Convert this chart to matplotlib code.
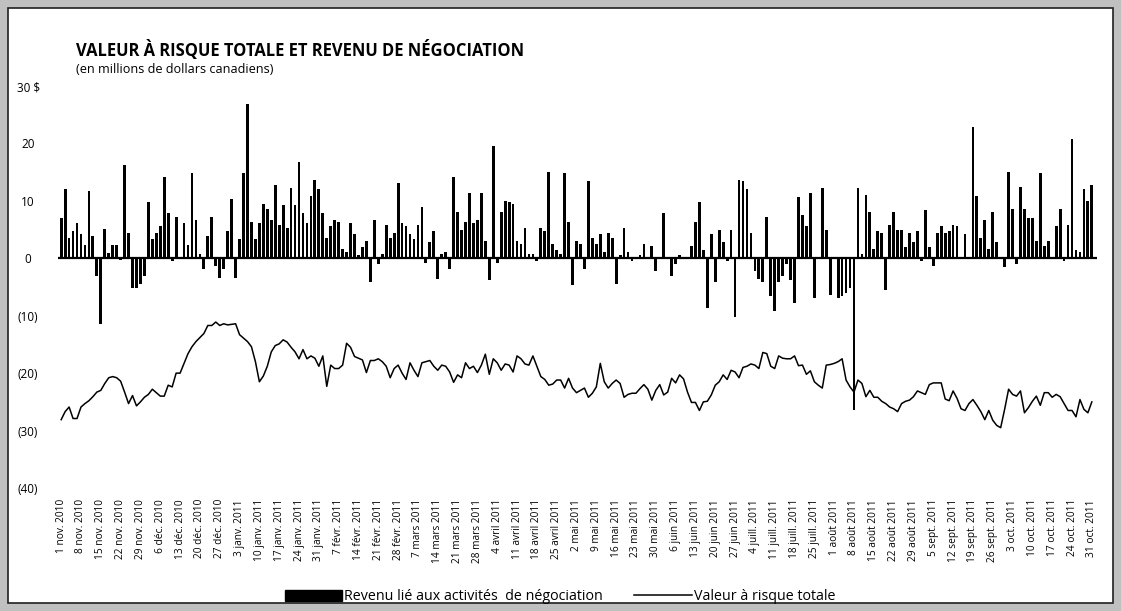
import matplotlib
matplotlib.use("Agg")
import matplotlib.pyplot as plt
from matplotlib.patches import Rectangle, Patch
from matplotlib.lines import Line2D
import numpy as np

# Revenu lié aux activités de négociation (M$), un point par jour ouvrable
revenu = [
    7.0, 12.0, 3.6, 4.8, 6.1, 4.2, 2.4, 11.8, 3.9, -3.0,
    -11.4, 5.1, 0.9, 2.3, 2.3, -0.3, 16.2, 4.4, -5.2, -5.2,
    -4.4, -3.0, 9.8, 3.3, 4.4, 5.6, 14.2, 7.8, -0.4, 7.2,
    0.2, 6.1, 2.3, 14.8, 6.7, 0.8, -1.9, 3.9, 7.2, -1.3,
    -3.4, -1.9, 4.7, 10.3, -3.4, 3.3, 14.8, 26.8, 6.4, 3.3,
    6.1, 9.5, 8.6, 6.7, 12.8, 5.8, 9.2, 5.3, 12.2, 9.2,
    16.8, 7.8, 6.1, 10.9, 13.7, 12.0, 7.8, 3.6, 5.6, 6.7,
    6.4, 1.6, 1.1, 6.1, 4.2, 0.5, 1.9, 3.0, -4.2, 6.7,
    -1.0, 0.8, 5.8, 3.6, 4.4, 13.1, 6.1, 5.6, 4.2, 3.3,
    5.8, 8.9, -0.8, 2.8, 4.7, -3.6, 0.8, 1.1, -1.9, 14.2,
    8.1, 5.0, 6.4, 11.4, 6.1, 6.7, 11.4, 3.0, -3.8, 19.5,
    -0.8, 8.1, 10.0, 9.8, 9.5, 3.0, 2.5, 5.3, 0.8, 0.8,
    -0.5, 5.3, 4.7, 15.1, 2.5, 1.4, 0.8, 14.8, 6.4, -4.7,
    3.0, 2.5, -1.9, 13.4, 3.6, 2.5, 4.2, 1.1, 4.4, 3.6,
    -4.4, 0.5, 5.3, 1.1, -0.5, 0.1, 0.5, 2.5, 0.1, 2.2,
    -2.2, 0.1, 7.8, 0.0, -3.0, -1.0, 0.5, 0.2, 0.2, 2.2,
    6.4, 9.8, 1.4, -8.6, 4.2, -4.2, 5.0, 2.8, -0.5, 5.0,
    -10.3, 13.7, 13.4, 12.0, 4.4, -2.2, -3.6, -4.2, 7.2, -6.6,
    -9.2, -4.2, -3.0, -1.0, -3.8, -7.8, 10.6, 7.5, 5.6, 11.4,
    -6.9, 0.0, 12.2, 5.0, -6.4, 0.2, -6.9, -6.6, -6.1, -5.2,
    -26.5, 12.2, 0.8, 11.1, 8.1, 1.6, 4.7, 4.4, -5.5, 5.8,
    8.1, 5.0, 5.0, 1.9, 4.4, 2.8, 4.7, -0.5, 8.4, 1.9,
    -1.3, 4.4, 5.6, 4.4, 4.7, 5.8, 5.6, 0.0, 4.2, 0.2,
    22.9, 10.9, 3.6, 6.7, 1.6, 8.1, 2.8, 0.0, -1.6, 15.1,
    8.6, -1.0, 12.5, 8.6, 7.0, 7.0, 3.0, 14.8, 2.2, 3.0,
    0.0, 5.6, 8.6, -0.5, 5.8, 20.7, 1.4, 1.1, 12.0, 10.0,
    12.8,
]

# Valeur à risque totale (M$)
var_totale = [
    -28.1, -26.7, -25.9, -27.9, -27.9, -25.9, -25.3, -24.8, -24.1, -23.3,
    -23.0, -21.8, -20.8, -20.6, -20.8, -21.4, -23.3, -25.3, -23.9, -25.7,
    -25.0, -24.2, -23.7, -22.8, -23.4, -24.0, -24.0, -22.1, -22.4, -20.0,
    -20.0, -18.3, -16.6, -15.4, -14.5, -13.8, -13.1, -11.7, -11.7, -11.1,
    -11.7, -11.4, -11.6, -11.5, -11.4, -13.3, -13.9, -14.5, -15.4, -18.0,
    -21.5, -20.5, -18.8, -16.3, -15.2, -14.9, -14.2, -14.6, -15.5, -16.3,
    -17.5, -15.9, -17.5, -17.0, -17.4, -18.8, -17.0, -22.3, -18.6, -19.2,
    -19.2, -18.6, -14.8, -15.5, -17.1, -17.4, -17.7, -19.9, -17.8, -17.8,
    -17.5, -18.0, -18.8, -20.8, -19.2, -18.6, -20.0, -21.1, -18.2, -19.5,
    -20.6, -18.2, -18.0, -17.8, -18.8, -19.5, -18.6, -18.8, -19.8, -21.6,
    -20.3, -20.8, -18.2, -19.2, -18.8, -19.9, -18.6, -16.7, -20.2, -17.5,
    -18.2, -19.5, -18.4, -18.6, -19.8, -17.0, -17.5, -18.4, -18.6, -17.0,
    -18.8, -20.6, -21.1, -22.1, -21.9, -21.2, -21.2, -22.6, -20.9, -22.6,
    -23.4, -23.0, -22.6, -24.2, -23.5, -22.4, -18.3, -21.5, -22.6, -21.8,
    -21.2, -21.8, -24.2, -23.7, -23.5, -23.5, -22.7, -22.0, -22.8, -24.7,
    -23.0, -22.0, -23.8, -23.3, -20.9, -21.7, -20.3, -21.0, -23.3, -25.1,
    -25.1, -26.5, -25.0, -24.9, -23.8, -22.1, -21.5, -20.3, -21.1, -19.5,
    -19.8, -20.8, -19.0, -18.8, -18.4, -18.6, -19.2, -16.4, -16.6, -18.8,
    -19.2, -17.0, -17.4, -17.5, -17.5, -17.0, -18.7, -18.6, -20.2, -19.6,
    -21.5, -22.1, -22.6, -18.6, -18.5, -18.3, -18.0, -17.5, -21.2, -22.4,
    -23.3, -21.2, -21.8, -24.1, -23.0, -24.2, -24.2, -24.9, -25.3, -25.9,
    -26.2, -26.7, -25.3, -24.9, -24.7, -24.1, -23.1, -23.4, -23.7, -22.0,
    -21.7, -21.7, -21.7, -24.5, -24.8, -23.1, -24.4, -26.2, -26.5, -25.3,
    -24.6, -25.6, -26.7, -28.1, -26.5, -28.2, -29.1, -29.5, -26.3, -22.8,
    -23.7, -24.0, -23.1, -26.9, -26.0, -24.9, -24.0, -25.6, -23.4, -23.4,
    -24.2, -23.7, -24.1, -25.3, -26.5, -26.5, -27.6, -24.6, -26.3, -26.9,
    -25.0,
]

# Étiquettes hebdomadaires (chaque lundi)
etiquettes_dates = [
    "1 nov. 2010", "8 nov. 2010", "15 nov. 2010", "22 nov. 2010", "29 nov. 2010",
    "6 déc. 2010", "13 déc. 2010", "20 déc. 2010", "27 déc. 2010",
    "3 janv. 2011", "10 janv. 2011", "17 janv. 2011", "24 janv. 2011", "31 janv. 2011",
    "7 févr. 2011", "14 févr. 2011", "21 févr. 2011", "28 févr. 2011",
    "7 mars 2011", "14 mars 2011", "21 mars 2011", "28 mars 2011",
    "4 avril 2011", "11 avril 2011", "18 avril 2011", "25 avril 2011",
    "2 mai 2011", "9 mai 2011", "16 mai 2011", "23 mai 2011", "30 mai 2011",
    "6 juin 2011", "13 juin 2011", "20 juin 2011", "27 juin 2011",
    "4 juill. 2011", "11 juill. 2011", "18 juill. 2011", "25 juill. 2011",
    "1 août 2011", "8 août 2011", "15 août 2011", "22 août 2011", "29 août 2011",
    "5 sept. 2011", "12 sept. 2011", "19 sept. 2011", "26 sept. 2011",
    "3 oct. 2011", "10 oct. 2011", "17 oct. 2011", "24 oct. 2011", "31 oct. 2011",
]

valeurs_y = [30, 20, 10, 0, -10, -20, -30, -40]
etiquettes_y = ["30 $", "20", "10", "0", "(10)", "(20)", "(30)", "(40)"]

plt.rcParams["font.family"] = ["Open Sans", "DejaVu Sans"]

W, H = 1121, 611
fig = plt.figure(figsize=(W / 100, H / 100), dpi=100)
fig.patch.set_facecolor("#c0c0c0")

# cadre blanc avec bordure
fig.add_artist(Rectangle((8 / W, 8 / H), (1113 - 8) / W, (603 - 8) / H,
                         transform=fig.transFigure, facecolor="white",
                         edgecolor="#202020", linewidth=1.2, zorder=0))

# zone du graphique
ax = fig.add_axes([58 / W, 1 - 488 / H, (1097 - 58) / W, (488 - 86) / H])
ax.set_facecolor("none")

x = np.arange(len(revenu))
ax.bar(x, revenu, width=0.7, color="black", zorder=2)
x_var = np.arange(len(var_totale))
ax.plot(x_var, var_totale, color="black", linewidth=1.1, zorder=3)
ax.axhline(0, color="black", linewidth=1.6, zorder=4)

ax.set_xlim(-0.8, 261.3)
ax.set_ylim(-40, 30)

ax.set_xticks(np.arange(0, 5 * len(etiquettes_dates), 5))
ax.set_xticklabels(etiquettes_dates, rotation=90, fontsize=7.3)
ax.tick_params(axis="x", length=0, pad=8)

ax.set_yticks(valeurs_y)
ax.set_yticklabels(etiquettes_y, fontsize=8.5)
ax.tick_params(axis="y", length=0, pad=21.5)
for lab in ax.get_yticklabels():
    lab.set_horizontalalignment("center")

for s in ax.spines.values():
    s.set_visible(False)

# titres
fig.text(76 / W, 1 - 56 / H, "VALEUR À RISQUE TOTALE ET REVENU DE NÉGOCIATION",
         fontsize=11.9, fontweight="bold", va="baseline", ha="left")
fig.text(76 / W, 1 - 73 / H, "(en millions de dollars canadiens)",
         fontsize=9.1, va="baseline", ha="left")

# légende
poignees = [Patch(facecolor="black", edgecolor="black"),
            Line2D([0], [0], color="black", linewidth=1.1)]
fig.legend(poignees, ["Revenu lié aux activités  de négociation", "Valeur à risque totale"],
           loc="center", bbox_to_anchor=(560 / W, 1 - 597 / H), ncol=2,
           frameon=False, fontsize=10.3, handlelength=4.0, handleheight=0.85,
           handletextpad=0.15, columnspacing=2.2, borderpad=0)

fig.savefig("out.png", dpi=100, facecolor=fig.get_facecolor())
